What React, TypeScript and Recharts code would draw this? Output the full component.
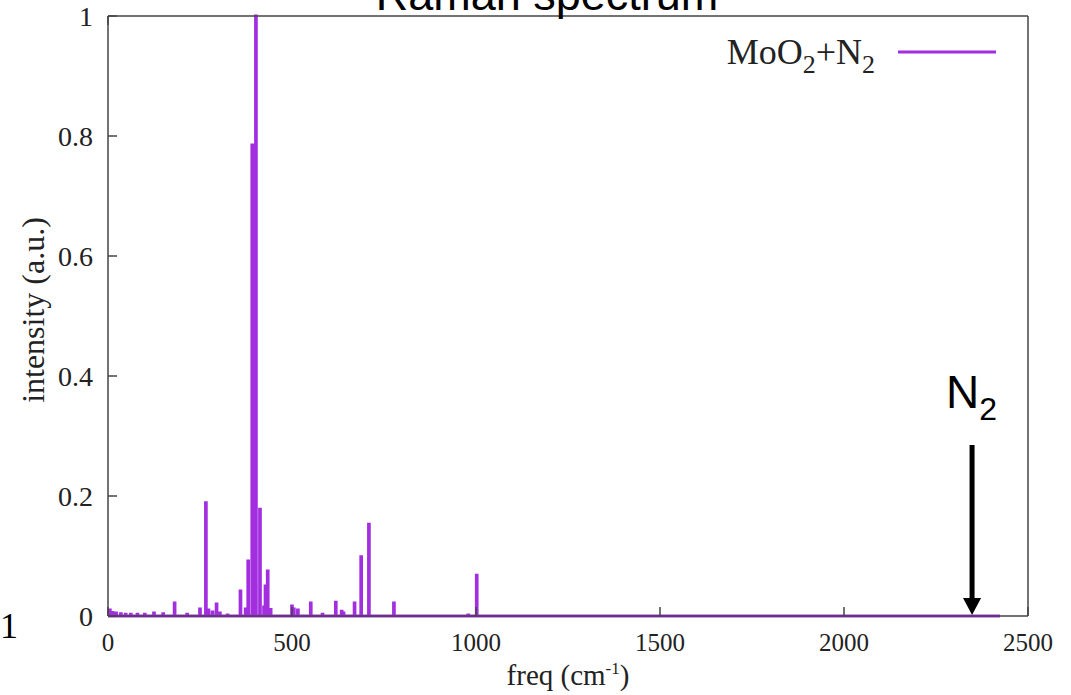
import { Line, LineChart, ReferenceLine, XAxis, YAxis } from "recharts";

// Raman lines: position (cm^-1) and normalised intensity
const peakFreqs = [
  5, 12, 22, 35, 48, 62, 80, 100, 125, 150, 181, 215, 250, 266, 273, 284, 295,
  304, 325, 360, 374, 381, 392, 402, 413, 424, 428, 434, 442, 500, 505, 516,
  551, 583, 619, 635, 640, 670, 688, 709, 777, 979, 1002,
];
const peakIntensities = [
  0.01, 0.006, 0.005, 0.004, 0.003, 0.003, 0.003, 0.003, 0.005, 0.004, 0.022,
  0.003, 0.012, 0.189, 0.01, 0.007, 0.02, 0.005, 0.002, 0.042, 0.012, 0.092,
  0.785, 1.0, 0.178, 0.015, 0.05, 0.075, 0.011, 0.017, 0.012, 0.01, 0.022,
  0.003, 0.023, 0.008, 0.005, 0.022, 0.099, 0.153, 0.022, 0.002, 0.068,
];
const spectrumStart = 0;
const spectrumEnd = 2424;

const xTicks = [0, 500, 1000, 1500, 2000, 2500];
const yTicks = [0, 0.2, 0.4, 0.6, 0.8, 1];

// N2 stretch marker
const n2Freq = 2348;
const n2ArrowTop = 0.285;

const LINE_HALF_WIDTH = 1.2;
const PURPLE = "#a22ee0";
const SERIF = "'Liberation Serif', 'Times New Roman', serif";
const SANS = "'Liberation Sans', Arial, sans-serif";

// each line becomes a narrow box so the path rises and drops back to zero
const spectrum = [{ freq: spectrumStart, intensity: 0 }];
peakFreqs.forEach((f, i) => {
  const h = peakIntensities[i];
  spectrum.push(
    { freq: f - LINE_HALF_WIDTH, intensity: 0 },
    { freq: f - LINE_HALF_WIDTH, intensity: h },
    { freq: f + LINE_HALF_WIDTH, intensity: h },
    { freq: f + LINE_HALF_WIDTH, intensity: 0 }
  );
});
spectrum.push({ freq: spectrumEnd, intensity: 0 });

const xTickStyle = { fontFamily: SERIF, fontSize: 25, fill: "#222" };
const yTickStyle = { fontFamily: SERIF, fontSize: 28, fill: "#222" };
const frame = { stroke: "#444", strokeWidth: 1.5 };

function N2Arrow(props: any) {
  const { x1, y1, y2 } = props;
  const head = 18;
  return (
    <g>
      <line x1={x1} y1={y1} x2={x1} y2={y2 - head + 2} stroke="#000" strokeWidth={5} />
      <polygon
        points={`${x1 - 9},${y2 - head} ${x1 + 9},${y2 - head} ${x1},${y2 - 1}`}
        fill="#000"
      />
      <text x={x1 - 26} y={y1 - 37} fontFamily={SANS} fontSize={46} fill="#000">
        N
        <tspan fontSize={32} dy={12}>
          2
        </tspan>
      </text>
    </g>
  );
}

export default function App() {
  return (
    <div style={{ position: "absolute", left: 0, top: 0, width: 1071, height: 695 }}>
      <LineChart
        width={1071}
        height={695}
        data={spectrum}
        margin={{ top: 15, right: 42, bottom: 49, left: 48 }}
      >
        <XAxis
          dataKey="freq"
          type="number"
          domain={[0, 2500]}
          ticks={xTicks}
          height={30}
          axisLine={frame}
          tickLine={frame}
          tickSize={-9}
          tickMargin={26}
          tick={xTickStyle}
          label={{
            content: ({ viewBox }: any) => (
              <text
                x={viewBox.x + viewBox.width / 2}
                y={viewBox.y + 69}
                textAnchor="middle"
                fontFamily={SERIF}
                fontSize={29}
                fill="#222"
              >
                freq (cm
                <tspan fontSize={17} dy={-11}>
                  -1
                </tspan>
                <tspan dy={11}>)</tspan>
              </text>
            ),
          }}
        />
        {/* mirrored axes close the frame on top and right */}
        <XAxis
          xAxisId="top"
          orientation="top"
          type="number"
          domain={[0, 2500]}
          ticks={xTicks}
          height={1}
          axisLine={frame}
          tickLine={frame}
          tickSize={-9}
          tick={() => null}
        />
        <YAxis
          type="number"
          domain={[0, 1]}
          ticks={yTicks}
          width={60}
          axisLine={frame}
          tickLine={frame}
          tickSize={-9}
          tickMargin={24}
          tick={yTickStyle}
          label={{
            content: ({ viewBox }: any) => {
              const cx = 33;
              const cy = viewBox.y + viewBox.height / 2 - 6;
              return (
                <text
                  x={cx}
                  y={cy}
                  transform={`rotate(-90 ${cx} ${cy})`}
                  textAnchor="middle"
                  dominantBaseline="central"
                  fontFamily={SERIF}
                  fontSize={32}
                  fill="#222"
                >
                  intensity (a.u.)
                </text>
              );
            },
          }}
        />
        <YAxis
          yAxisId="right"
          orientation="right"
          type="number"
          domain={[0, 1]}
          ticks={yTicks}
          width={1}
          axisLine={frame}
          tickLine={frame}
          tickSize={-9}
          tick={() => null}
        />
        <Line
          dataKey="intensity"
          type="linear"
          stroke={PURPLE}
          strokeWidth={2.8}
          dot={false}
          activeDot={false}
          isAnimationActive={false}
        />
        <ReferenceLine
          segment={[
            { x: n2Freq, y: n2ArrowTop },
            { x: n2Freq, y: 0 },
          ]}
          shape={N2Arrow}
          ifOverflow="visible"
        />
      </LineChart>
      <svg
        width={1071}
        height={695}
        style={{ position: "absolute", left: 0, top: 0, pointerEvents: "none" }}
      >
        <text x={547} y={10} textAnchor="middle" fontFamily={SANS} fontSize={45} fill="#000">
          Raman spectrum
        </text>
        <text x={875} y={64} textAnchor="end" fontFamily={SERIF} fontSize={36} fill="#222">
          MoO
          <tspan fontSize={26} dy={9}>
            2
          </tspan>
          <tspan dy={-9}>+N</tspan>
          <tspan fontSize={26} dy={9}>
            2
          </tspan>
        </text>
        <line x1={898} y1={52} x2={996} y2={52} stroke={PURPLE} strokeWidth={3} />
        <text x={0} y={638} fontFamily={SERIF} fontSize={36} fill="#000">
          1
        </text>
      </svg>
    </div>
  );
}
